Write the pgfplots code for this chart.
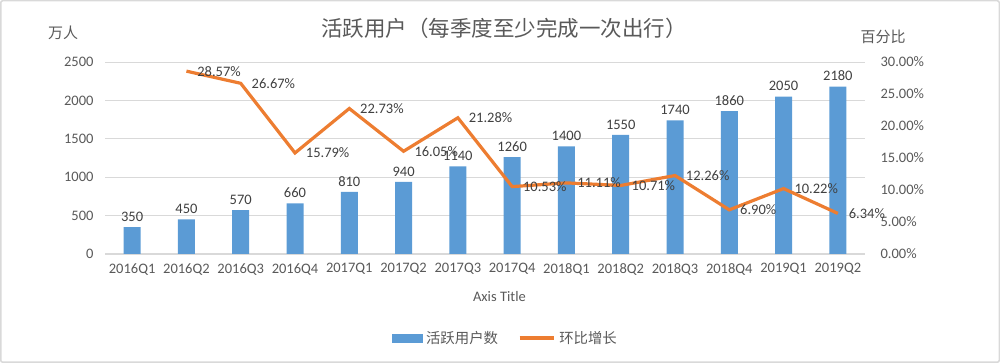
\documentclass[border=0pt]{standalone}
\usepackage{fontspec}
\setmainfont{Carlito}
\newfontfamily\cjk{Noto Sans CJK SC}
\usepackage{pgfplots}
\usepackage{pgfplotstable}
\pgfplotsset{compat=1.18}
\definecolor{barblue}{HTML}{5B9BD5}
\definecolor{lineorange}{HTML}{ED7D31}
\definecolor{txtgray}{HTML}{595959}
\definecolor{lblgray}{HTML}{404040}
\definecolor{gridgray}{HTML}{D9D9D9}
\pgfplotsset{/pgf/number format/assume math mode=true, /pgf/number format/1000 sep={}}

\pgfplotstableread{
x users
0 350
1 450
2 570
3 660
4 810
5 940
6 1140
7 1260
8 1400
9 1550
10 1740
11 1860
12 2050
13 2180
}\users

\pgfplotstableread{
x growth
1 28.57
2 26.67
3 15.79
4 22.73
5 16.05
6 21.28
7 10.53
8 11.11
9 10.71
10 12.26
11 6.90
12 10.22
13 6.34
}\growth

\begin{document}
\begin{tikzpicture}
\useasboundingbox (0pt,0pt) rectangle (1000pt,363pt);
\draw[gridgray, line width=1.5pt, rounded corners=2pt] (0.75pt,0.75pt) rectangle (999.25pt,362.25pt);

\begin{axis}[
  at={(105pt,109pt)}, anchor=south west,
  width=760pt, height=192pt, scale only axis,
  xmin=-0.5, xmax=13.5, ymin=0, ymax=2500,
  ytick={0,500,1000,1500,2000,2500},
  xtick={0,...,13},
  xticklabels={2016Q1,2016Q2,2016Q3,2016Q4,2017Q1,2017Q2,2017Q3,2017Q4,2018Q1,2018Q2,2018Q3,2018Q4,2019Q1,2019Q2},
  ymajorgrids, grid style={draw=gridgray, line width=0.9pt},
  axis x line*=bottom, axis y line*=left,
  y axis line style={draw=none},
  x axis line style={draw=gridgray, line width=1pt, -},
  major tick length=0pt,
  tick label style={font=\fontsize{14.5}{16}\selectfont, text=txtgray},
  yticklabel style={xshift=-8pt},
  xticklabel style={yshift=-6pt},
  scaled y ticks=false,
  xlabel={Axis Title},
  xlabel style={at={(axis description cs:0.519,-0.224)}, anchor=center, font=\fontsize{14.5}{16}\selectfont, text=txtgray},
  clip=false,
]
\addplot[ybar, bar width=17pt, fill=barblue, draw=none,
  nodes near coords,
  every node near coord/.append style={font=\fontsize{14.5}{16}\selectfont, text=lblgray, anchor=south, yshift=2pt}]
  table[x=x,y=users]{\users};
\end{axis}

\begin{axis}[
  at={(105pt,109pt)}, anchor=south west,
  width=760pt, height=192pt, scale only axis,
  xmin=-0.5, xmax=13.5, ymin=0, ymax=30,
  ytick={0,5,10,15,20,25,30},
  axis y line*=right, axis x line=none,
  y axis line style={draw=none},
  major tick length=0pt,
  yticklabel={\pgfmathprintnumber[fixed,fixed zerofill,precision=2]{\tick}\%},
  yticklabel style={font=\fontsize{14.5}{16}\selectfont, text=txtgray, xshift=12pt},
  clip=false,
  legend style={at={(0.528,-0.4375)}, anchor=center, draw=none, fill=none,
    legend columns=2, font=\cjk\fontsize{14.4}{16}\selectfont, text=txtgray,
    /tikz/every even column/.append style={column sep=16pt},
    nodes={inner xsep=4pt}},
]
\addlegendimage{legend image code/.code={\fill[barblue] (0pt,-4pt) rectangle (30pt,4pt);}}
\addlegendentry{活跃用户数}
\addplot[lineorange, line width=3.2pt, mark=none,
  legend image code/.code={\draw[lineorange, line width=3.2pt] (0pt,0pt) -- (34pt,0pt);},
  nodes near coords={\pgfmathprintnumber[fixed,fixed zerofill,precision=2]{\pgfplotspointmeta}\%},
  every node near coord/.append style={font=\fontsize{14.5}{16}\selectfont, text=lblgray, anchor=west, xshift=6pt}]
  table[x=x,y=growth]{\growth};
\addlegendentry{环比增长}
\end{axis}

\node[font=\cjk\fontsize{21.5}{24}\selectfont, text=txtgray] at (504pt,335pt) {活跃用户（每季度至少完成一次出行）};
\node[font=\cjk\fontsize{15}{17}\selectfont, text=txtgray] at (63pt,330pt) {万人};
\node[font=\cjk\fontsize{15}{17}\selectfont, text=txtgray] at (883pt,326pt) {百分比};
\end{tikzpicture}
\end{document}
